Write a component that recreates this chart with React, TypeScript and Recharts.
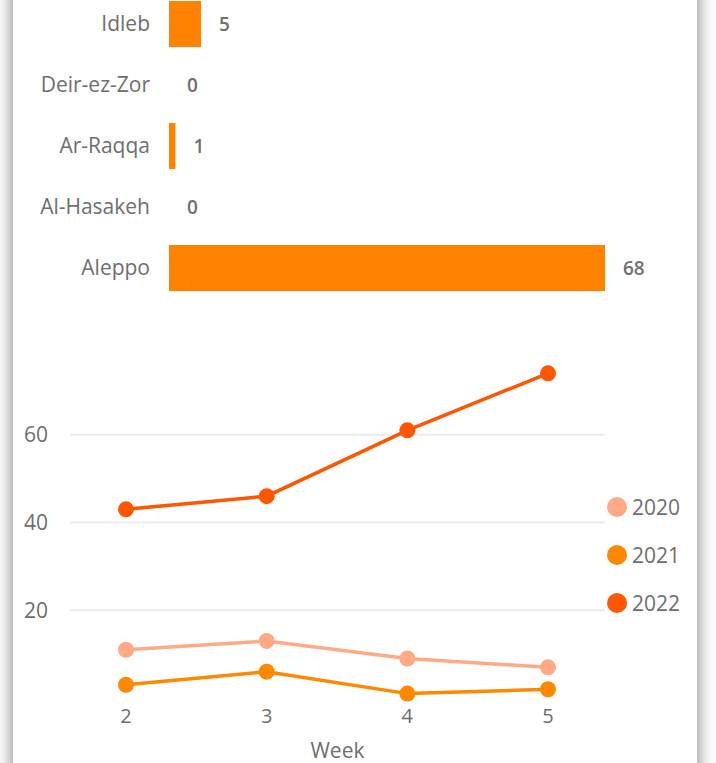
import React from 'react'
import {
  BarChart, Bar, LineChart, Line, XAxis, YAxis, ReferenceLine, LabelList, Legend,
} from 'recharts'

const regions = ['Idleb', 'Deir-ez-Zor', 'Ar-Raqqa', 'Al-Hasakeh', 'Aleppo']
const regionCounts = [5, 0, 1, 0, 68]

const weeks = [2, 3, 4, 5]
const cases2020 = [11, 13, 9, 7]
const cases2021 = [3, 6, 1, 2]
const cases2022 = [43, 46, 61, 74]
const yTicks = [20, 40, 60]

const FONT = '"Segoe UI", "Open Sans", sans-serif'
const TEXT = '#6e6e6e'

const SERIES = [
  { key: 'y2020', name: '2020', color: '#FFAA85' },
  { key: 'y2021', name: '2021', color: '#FF8800' },
  { key: 'y2022', name: '2022', color: '#FF5700' },
]

const barData = regions.map((name, i) => ({ name, value: regionCounts[i] }))
const lineData = weeks.map((week, i) => ({
  week,
  y2020: cases2020[i],
  y2021: cases2021[i],
  y2022: cases2022[i],
}))

function YearLegend() {
  return (
    <div>
      {SERIES.map((s) => (
        <div key={s.key} style={{ display: 'flex', alignItems: 'center', height: 48 }}>
          <span style={{
            width: 20, height: 20, borderRadius: 10, background: s.color,
            display: 'inline-block', marginRight: 5,
          }} />
          <span style={{ fontFamily: FONT, fontSize: 21, color: TEXT }}>{s.name}</span>
        </div>
      ))}
    </div>
  )
}

export default function App() {
  return (
    <div style={{ position: 'absolute', left: 0, top: 0, width: 716, height: 763, overflow: 'hidden', background: '#fff' }}>
      <div style={{
        position: 'absolute', left: 13, top: -40, width: 684, height: 850,
        background: '#fff', boxShadow: '0 0 16px rgba(0,0,0,0.55)',
      }} />

      <div style={{ position: 'absolute', left: 0, top: -7 }}>
        <BarChart
          layout="vertical"
          width={716}
          height={305}
          data={barData}
          margin={{ top: 0, right: 111, bottom: 0, left: 0 }}
          barSize={46}
        >
          <XAxis type="number" domain={[0, 68]} hide />
          <YAxis
            type="category"
            dataKey="name"
            width={169}
            axisLine={false}
            tickLine={false}
            tickSize={0}
            tickMargin={19}
            tick={{ fill: TEXT, fontSize: 21, fontFamily: FONT }}
          />
          <Bar
            dataKey="value"
            fill="#FF8300"
            minPointSize={(v: number) => (v === 0 ? 0.01 : 0)}
            isAnimationActive={false}
          >
            <LabelList
              dataKey="value"
              position="right"
              offset={18}
              fill="#707070"
              fontSize={19}
              fontWeight={600}
              fontFamily={FONT}
            />
          </Bar>
        </BarChart>
      </div>

      <div style={{ position: 'absolute', left: 0, top: 330 }}>
        <LineChart
          width={716}
          height={433}
          data={lineData}
          margin={{ top: 17, right: 111, bottom: 5, left: 0 }}
        >
          <XAxis
            dataKey="week"
            type="number"
            domain={[2, 5]}
            ticks={weeks}
            padding={{ left: 56, right: 57 }}
            height={60}
            axisLine={false}
            tickLine={false}
            tickSize={0}
            tickMargin={11}
            tick={{ fill: TEXT, fontSize: 20, fontFamily: FONT }}
            label={{ value: 'Week', position: 'insideBottom', offset: 0, fill: TEXT, fontSize: 21, fontFamily: FONT }}
          />
          <YAxis
            type="number"
            domain={[0, 80]}
            ticks={yTicks}
            width={70}
            axisLine={false}
            tickLine={false}
            tickSize={0}
            tickMargin={22}
            tick={{ fill: TEXT, fontSize: 21, fontFamily: FONT }}
          />
          {yTicks.map((t) => (
            <ReferenceLine key={t} y={t} stroke="#ebebeb" strokeWidth={2} />
          ))}
          <Legend
            layout="vertical"
            align="center"
            verticalAlign="middle"
            content={<YearLegend />}
            wrapperStyle={{ left: 607, top: 153, width: 100 }}
          />
          {SERIES.map((s) => (
            <Line
              key={s.key}
              dataKey={s.key}
              name={s.name}
              type="linear"
              stroke={s.color}
              strokeWidth={3.5}
              dot={{ r: 8, fill: s.color, stroke: s.color, strokeWidth: 0 }}
              activeDot={false}
              isAnimationActive={false}
            />
          ))}
        </LineChart>
      </div>
    </div>
  )
}
